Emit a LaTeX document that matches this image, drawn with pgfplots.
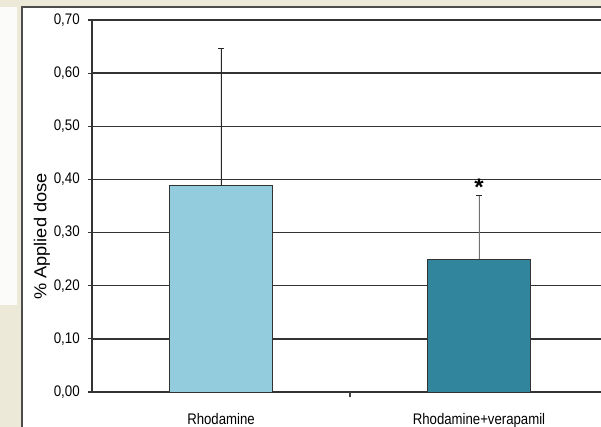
\documentclass[border=0pt]{standalone}
\usepackage{pgfplots}
\pgfplotsset{compat=1.18}
\usepackage{fontspec}
\setmainfont{Liberation Sans}
\newfontfamily\tickfamily{Liberation Sans}[FakeStretch=0.87]
\newfontfamily\catfamily{Liberation Sans}[FakeStretch=0.86]
\newfontfamily\labelfamily{Liberation Sans}[FakeStretch=1.05]

\definecolor{panelbg}{HTML}{ECE9D8}
\definecolor{panelwhite}{HTML}{FBFBFA}
\definecolor{barlight}{HTML}{93CDDD}
\definecolor{bardark}{HTML}{31859C}

\newcommand{\ytickfont}{\tickfamily\fontsize{11.5}{13}\selectfont}
\newcommand{\xtickfont}{\catfamily\fontsize{11.5}{13}\selectfont}

\begin{document}
\begin{tikzpicture}
% page frame: 601 x 427 px at 0.75pt per px
\useasboundingbox (0,0) rectangle (450.75pt,320.25pt);
\clip (0,0) rectangle (450.75pt,320.25pt);
\fill[panelbg] (0,0) rectangle (450.75pt,320.25pt);
\fill[panelwhite] (0,91.5pt) rectangle (12.75pt,315pt);
\fill[white] (16.5pt,0) rectangle (451pt,315pt);
\draw[black!70, line width=0.8pt] (16.5pt,0) -- (16.5pt,315pt) -- (451pt,315pt);

\begin{axis}[
  at={(69pt,26.25pt)}, anchor=south west,
  scale only axis, width=387pt, height=279pt,
  xmin=-0.5, xmax=1.5, ymin=0, ymax=0.7,
  axis x line*=bottom, axis y line*=left,
  axis line style={black!80, line width=0.9pt},
  tick align=outside, major tick length=3pt,
  ytick={0,0.1,0.2,0.3,0.4,0.5,0.6,0.7},
  yticklabel={\ytickfont\pgfmathprintnumber[fixed,fixed zerofill,precision=2,use comma,assume math mode=true]{\tick}},
  yticklabel style={font=\ytickfont, inner sep=1.5pt, xshift=-4.5pt},
  ytick style={black!80, line width=0.8pt},
  ymajorgrids,
  grid style={black!80, line width=1.1pt},
  xtick={0,1},
  xticklabels={{\xtickfont Rhodamine}, {\xtickfont Rhodamine+verapamil}},
  xticklabel style={font=\xtickfont, yshift=-9.5pt},
  xtick style={draw=none},
  extra x ticks={0.5},
  extra x tick labels={},
  extra x tick style={xtick style={draw=black!75, line width=0.8pt}, major tick length=4pt},
  ylabel={\% Applied dose},
  ylabel style={font=\labelfamily\fontsize{13}{15}\selectfont, at={(axis description cs:-0.097,0.418)}, anchor=center, rotate=0},
]
\addplot[ybar, bar shift=0pt, bar width=77.25pt, fill=barlight, draw=black!80, line width=0.7pt,
  error bars/.cd, y dir=plus, y explicit, error mark=|,
  error bar style={black!85, line width=0.7pt},
  error mark options={black!85, line width=0.9pt, mark size=2.2pt}]
  coordinates {(0,0.388) +- (0,0.259)};
\addplot[ybar, bar shift=0pt, bar width=77.25pt, fill=bardark, draw=black!80, line width=0.7pt,
  error bars/.cd, y dir=plus, y explicit, error mark=|,
  error bar style={black!55, line width=0.7pt},
  error mark options={black!85, line width=0.9pt, mark size=2.2pt}]
  coordinates {(1,0.250) +- (0,0.119)};
\node[anchor=base, font=\fontsize{18}{20}\selectfont\bfseries, inner sep=0pt] at (axis cs:1,0.369) {*};
\end{axis}
\end{tikzpicture}
\end{document}
